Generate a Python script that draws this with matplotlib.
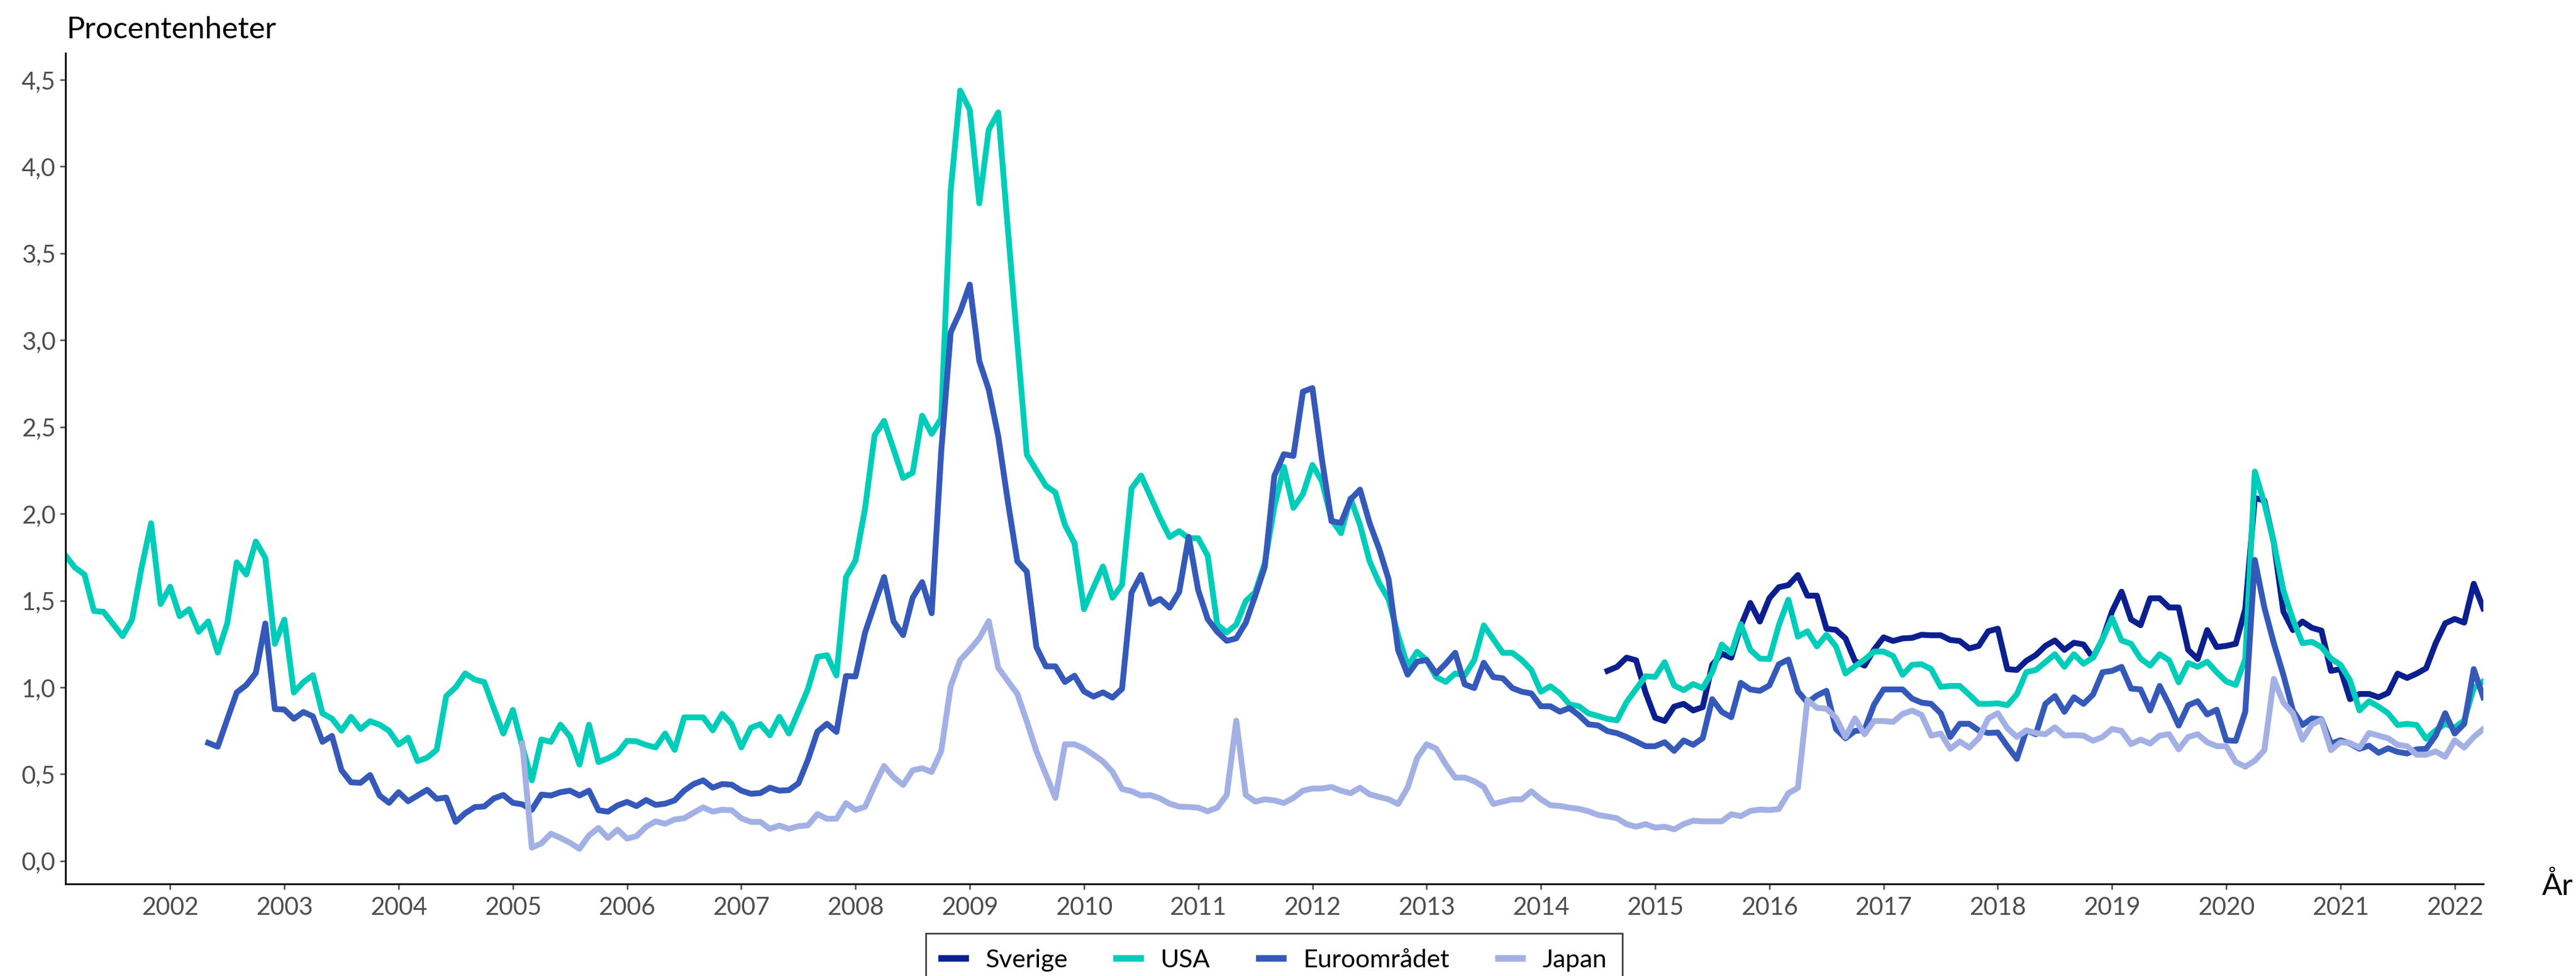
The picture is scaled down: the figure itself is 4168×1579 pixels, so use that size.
import numpy as np
import matplotlib
matplotlib.use("Agg")
import matplotlib.pyplot as plt

plt.rcParams['font.family'] = ['Lato', 'DejaVu Sans']

# monthly series, first value = Feb 2001
start_year = 2001 + 1/12

usa = [1.76, 1.69, 1.65, 1.44, 1.435, 1.365, 1.295, 1.39, 1.69, 1.945,
       1.48, 1.58, 1.41, 1.45, 1.32, 1.38, 1.20, 1.37, 1.72, 1.65,
       1.84, 1.745, 1.25, 1.39, 0.97, 1.03, 1.07, 0.85, 0.82, 0.75,
       0.83, 0.76, 0.805, 0.785, 0.75, 0.67, 0.71, 0.575, 0.595, 0.64,
       0.95, 1.00, 1.08, 1.045, 1.03, 0.88, 0.734, 0.87, 0.66, 0.464,
       0.70, 0.686, 0.785, 0.717, 0.555, 0.785, 0.57, 0.591, 0.622, 0.692,
       0.689, 0.668, 0.654, 0.734, 0.64, 0.827, 0.827, 0.827, 0.753, 0.847,
       0.788, 0.654, 0.767, 0.788, 0.724, 0.83, 0.734, 0.861, 0.99, 1.176,
       1.185, 1.068, 1.634, 1.731, 2.03, 2.451, 2.535, 2.37, 2.206, 2.236,
       2.565, 2.46, 2.55, 3.86, 4.438, 4.327, 3.788, 4.213, 4.312, 3.644,
       2.985, 2.34, 2.25, 2.161, 2.122, 1.936, 1.831, 1.45, 1.576, 1.696,
       1.516, 1.591, 2.146, 2.22, 2.097, 1.975, 1.866, 1.9, 1.859, 1.859,
       1.758, 1.362, 1.316, 1.362, 1.497, 1.549, 1.717, 2.04, 2.27, 2.034,
       2.113, 2.281, 2.187, 1.967, 1.888, 2.089, 1.936, 1.727, 1.602, 1.508,
       1.299, 1.121, 1.205, 1.157, 1.059, 1.031, 1.08, 1.069, 1.157, 1.357,
       1.278, 1.199, 1.199, 1.157, 1.1, 0.975, 1.006, 0.965, 0.902, 0.891,
       0.85, 0.835, 0.818, 0.81, 0.915, 0.99, 1.064, 1.06, 1.145, 1.011,
       0.984, 1.019, 0.996, 1.087, 1.247, 1.197, 1.364, 1.216, 1.166, 1.163,
       1.358, 1.505, 1.292, 1.323, 1.236, 1.303, 1.236, 1.08, 1.121, 1.16,
       1.206, 1.206, 1.181, 1.072, 1.13, 1.133, 1.105, 1.003, 1.008, 1.008,
       0.958, 0.905, 0.905, 0.908, 0.897, 0.96, 1.088, 1.10, 1.145, 1.191,
       1.118, 1.191, 1.136, 1.171, 1.277, 1.399, 1.27, 1.251, 1.166, 1.125,
       1.191, 1.156, 1.029, 1.14, 1.118, 1.148, 1.087, 1.034, 1.014, 1.163,
       2.243, 2.061, 1.833, 1.559, 1.391, 1.254, 1.262, 1.232, 1.166, 1.13,
       1.041, 0.867, 0.92, 0.889, 0.851, 0.783, 0.79, 0.783, 0.704, 0.752,
       0.79, 0.768, 0.81, 0.996, 1.034]

# starts May 2002
euro_start = 15
euro = [0.68, 0.658, 0.816, 0.971, 1.013, 1.083, 1.368, 0.875, 0.872, 0.819,
        0.858, 0.833, 0.686, 0.72, 0.523, 0.453, 0.45, 0.495, 0.377, 0.335,
        0.396, 0.344, 0.377, 0.41, 0.358, 0.365, 0.225, 0.275, 0.31, 0.314,
        0.36, 0.38, 0.335, 0.326, 0.295, 0.382, 0.377, 0.396, 0.405, 0.377,
        0.405, 0.292, 0.284, 0.32, 0.34, 0.316, 0.351, 0.323, 0.33, 0.349,
        0.405, 0.443, 0.464, 0.422, 0.443, 0.439, 0.405, 0.387, 0.391, 0.422,
        0.405, 0.408, 0.447, 0.582, 0.745, 0.79, 0.743, 1.065, 1.063, 1.315,
        1.478, 1.635, 1.38, 1.301, 1.516, 1.606, 1.427, 2.356, 3.045, 3.165,
        3.32, 2.88, 2.715, 2.445, 2.071, 1.726, 1.666, 1.232, 1.121, 1.121,
        1.031, 1.067, 0.977, 0.947, 0.971, 0.941, 0.992, 1.546, 1.648, 1.481,
        1.509, 1.459, 1.549, 1.867, 1.56, 1.393, 1.32, 1.268, 1.282, 1.372,
        1.529, 1.696, 2.218, 2.343, 2.333, 2.703, 2.724, 2.312, 1.957, 1.947,
        2.082, 2.139, 1.947, 1.8, 1.623, 1.215, 1.073, 1.148, 1.157, 1.08,
        1.136, 1.199, 1.017, 0.996, 1.142, 1.059, 1.052, 0.996, 0.975, 0.965,
        0.891, 0.891, 0.86, 0.881, 0.839, 0.787, 0.781, 0.748, 0.736, 0.714,
        0.688, 0.661, 0.661, 0.684, 0.634, 0.694, 0.669, 0.707, 0.932, 0.859,
        0.828, 1.026, 0.988, 0.98, 1.011, 1.133, 1.16, 0.977, 0.912, 0.953,
        0.98, 0.76, 0.707, 0.749, 0.755, 0.901, 0.988, 0.988, 0.988, 0.935,
        0.912, 0.905, 0.851, 0.714, 0.79, 0.79, 0.752, 0.737, 0.74, 0.661,
        0.588, 0.752, 0.73, 0.905, 0.95, 0.859, 0.943, 0.905, 0.958, 1.087,
        1.095, 1.118, 0.993, 0.988, 0.867, 1.008, 0.901, 0.78, 0.897, 0.92,
        0.844, 0.871, 0.695, 0.692, 0.859, 1.734, 1.46, 1.254, 1.072, 0.866,
        0.783, 0.821, 0.816, 0.676, 0.695, 0.676, 0.646, 0.664, 0.623, 0.649,
        0.628, 0.619, 0.643, 0.646, 0.722, 0.851, 0.734, 0.79, 1.105, 0.943]

# starts Feb 2005
japan_start = 48
japan = [0.675, 0.077, 0.101, 0.157, 0.133, 0.105, 0.07, 0.147, 0.19, 0.133,
         0.18, 0.129, 0.143, 0.197, 0.228, 0.214, 0.239, 0.246, 0.278, 0.309,
         0.284, 0.295, 0.292, 0.246, 0.225, 0.225, 0.185, 0.204, 0.185, 0.2,
         0.205, 0.27, 0.243, 0.243, 0.333, 0.294, 0.312, 0.434, 0.547, 0.483,
         0.438, 0.522, 0.534, 0.513, 0.632, 1.007, 1.157, 1.217, 1.282, 1.382,
         1.112, 1.037, 0.962, 0.803, 0.632, 0.498, 0.363, 0.672, 0.672, 0.648,
         0.612, 0.573, 0.513, 0.414, 0.402, 0.377, 0.379, 0.36, 0.33, 0.313,
         0.311, 0.307, 0.286, 0.307, 0.38, 0.808, 0.38, 0.342, 0.355, 0.349,
         0.334, 0.363, 0.405, 0.417, 0.417, 0.426, 0.405, 0.39, 0.422, 0.384,
         0.369, 0.355, 0.328, 0.422, 0.593, 0.672, 0.647, 0.557, 0.48, 0.48,
         0.459, 0.426, 0.328, 0.342, 0.355, 0.355, 0.401, 0.355, 0.321, 0.317,
         0.307, 0.3, 0.286, 0.265, 0.256, 0.246, 0.212, 0.197, 0.212, 0.192,
         0.197, 0.182, 0.212, 0.232, 0.228, 0.228, 0.228, 0.269, 0.258, 0.288,
         0.296, 0.293, 0.299, 0.39, 0.421, 0.927, 0.882, 0.877, 0.825, 0.714,
         0.821, 0.73, 0.806, 0.806, 0.801, 0.847, 0.866, 0.841, 0.722, 0.734,
         0.646, 0.688, 0.653, 0.707, 0.821, 0.851, 0.765, 0.714, 0.752, 0.737,
         0.73, 0.77, 0.722, 0.725, 0.722, 0.692, 0.714, 0.76, 0.749, 0.673,
         0.699, 0.676, 0.722, 0.73, 0.643, 0.714, 0.73, 0.684, 0.661, 0.661,
         0.57, 0.543, 0.578, 0.638, 1.049, 0.912, 0.851, 0.699, 0.786, 0.813,
         0.638, 0.684, 0.679, 0.653, 0.737, 0.722, 0.707, 0.669, 0.661, 0.612,
         0.612, 0.631, 0.6, 0.695, 0.653, 0.714, 0.76]

# starts Aug 2014
sverige_start = 162
sverige = [1.095, 1.118, 1.171, 1.156, 0.97, 0.825, 0.806, 0.889, 0.905, 0.867,
           0.886, 1.13, 1.194, 1.171, 1.353, 1.486, 1.379, 1.513, 1.577, 1.589,
           1.647, 1.528, 1.528, 1.338, 1.331, 1.282, 1.151, 1.125, 1.217, 1.288,
           1.267, 1.282, 1.285, 1.303, 1.3, 1.3, 1.273, 1.267, 1.224, 1.239,
           1.323, 1.338, 1.105, 1.10, 1.153, 1.186, 1.239, 1.27, 1.216, 1.257,
           1.247, 1.171, 1.277, 1.437, 1.551, 1.391, 1.358, 1.513, 1.513, 1.46,
           1.46, 1.216, 1.163, 1.33, 1.232, 1.239, 1.251, 1.452, 2.091, 2.076,
           1.833, 1.437, 1.33, 1.379, 1.343, 1.327, 1.095, 1.105, 0.932, 0.962,
           0.962, 0.943, 0.968, 1.079, 1.054, 1.079, 1.11, 1.254, 1.369, 1.394,
           1.373, 1.597, 1.455]

years = list(range(2002, 2023))
yticks = [0.0, 0.5, 1.0, 1.5, 2.0, 2.5, 3.0, 3.5, 4.0, 4.5]


def t_axis(first, n):
    # decimal year for n monthly points starting at month index first
    return start_year + (first + np.arange(n)) / 12


fig = plt.figure(figsize=(20.84, 7.895), dpi=200)
ax = fig.add_axes([0.0254, 0.0944, 0.9386, 0.8511])

lw = 3.4
ax.plot(t_axis(sverige_start, len(sverige)), sverige, color='#0b1f8f', lw=lw,
        label='Sverige', solid_joinstyle='round')
ax.plot(t_axis(0, len(usa)), usa, color='#00cdb9', lw=lw,
        label='USA', solid_joinstyle='round')
ax.plot(t_axis(euro_start, len(euro)), euro, color='#3459b9', lw=lw,
        label='Euroområdet', solid_joinstyle='round')
ax.plot(t_axis(japan_start, len(japan)), japan, color='#a2b0e4', lw=lw,
        label='Japan', solid_joinstyle='round')

ax.set_xlim(start_year, start_year + (len(usa) - 1) / 12)
ax.set_ylim(-0.132, 4.653)

ax.set_xticks(years)
ax.set_xticklabels([str(y) for y in years])
ax.set_yticks(yticks)
ax.set_yticklabels([f"{v:.1f}".replace('.', ',') for v in yticks])

ax.tick_params(axis='both', colors='#4d4d4d', labelsize=14.3, length=3.2, width=0.9)
ax.tick_params(axis='y', pad=2.5)
ax.tick_params(axis='x', pad=4)

for side in ['top', 'right']:
    ax.spines[side].set_visible(False)
for side in ['left', 'bottom']:
    ax.spines[side].set_color('black')
    ax.spines[side].set_linewidth(1.0)

fig.text(0.0259, 0.961, 'Procentenheter', fontsize=17.8, color='black', va='baseline')
fig.text(0.9868, 0.0925, 'År', fontsize=17.5, color='black', va='center')

# legend box runs off the bottom edge
leg = fig.legend(loc='upper center', bbox_to_anchor=(0.4946, 0.0437), ncol=4,
                 frameon=True, fancybox=False, fontsize=14.8, handlelength=0.95,
                 handletextpad=0.8, columnspacing=1.9, borderpad=0.6,
                 borderaxespad=0)
leg.get_frame().set_edgecolor('black')
leg.get_frame().set_linewidth(0.9)
for line in leg.get_lines():
    line.set_linewidth(3.8)

fig.savefig('out.png', dpi=200)
